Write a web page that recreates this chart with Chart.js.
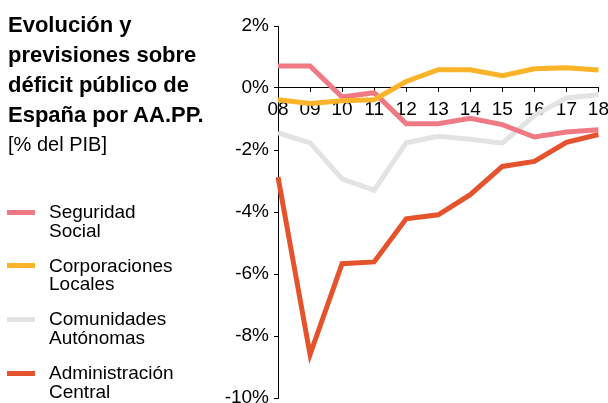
<!DOCTYPE html>
<html>
<head>
<meta charset="utf-8">
<script src="https://cdn.jsdelivr.net/npm/chart.js@4"></script>
<style>
  html, body { margin: 0; padding: 0; width: 608px; height: 403px; overflow: hidden; background: #fff; }
  body { position: relative; font-family: "Liberation Sans", Arial, sans-serif; color: #000; }
  #wrap { position: absolute; left: 0; top: 0; width: 615px; height: 420px; }
  .title { position: absolute; left: 8px; top: 10px; font-size: 22px; font-weight: bold; line-height: 30px; z-index: 2; }
  .sub { position: absolute; left: 8px; top: 133px; font-size: 20px; line-height: 22px; z-index: 2; }
  .item { position: absolute; left: 49px; font-size: 19px; line-height: 18.5px; z-index: 2; }
  .sw { position: absolute; left: -42px; top: 6.5px; width: 28px; height: 5px; }
</style>
</head>
<body>
<div class="title">Evolución y<br>previsiones sobre<br>déficit público de<br>España por AA.PP.</div>
<div class="sub">[% del PIB]</div>
<div id="legend"></div>
<div id="wrap"><canvas id="grafico"></canvas></div>
<script>
// données (% du PIB)
const annees = ['08', '09', '10', '11', '12', '13', '14', '15', '16', '17', '18']
const seguridadSocial = [0.71, 0.71, -0.29, -0.15, -1.15, -1.15, -0.98, -1.18, -1.58, -1.42, -1.35]
const corporacionesLocales = [-0.38, -0.5, -0.41, -0.38, 0.21, 0.59, 0.59, 0.4, 0.62, 0.65, 0.58]
const comunidadesAutonomas = [-1.45, -1.77, -2.93, -3.3, -1.77, -1.56, -1.65, -1.78, -0.89, -0.32, -0.22]
const administracionCentral = [-2.87, -8.6, -5.67, -5.61, -4.22, -4.09, -3.44, -2.53, -2.37, -1.75, -1.5]
const ticksY = [2, 0, -2, -4, -6, -8, -10]

const series = [
  { nom: ['Seguridad', 'Social'], data: seguridadSocial, couleur: '#f07a83' },
  { nom: ['Corporaciones', 'Locales'], data: corporacionesLocales, couleur: '#fbb429' },
  { nom: ['Comunidades', 'Autónomas'], data: comunidadesAutonomas, couleur: '#e3e3e3' },
  { nom: ['Administración', 'Central'], data: administracionCentral, couleur: '#e5532d' }
]

// légende à gauche
let legende = document.getElementById('legend')
series.forEach((s, i) => {
  let div = document.createElement('div')
  div.className = 'item'
  div.style.top = (203 + i * 53.7) + 'px'
  div.innerHTML = '<span class="sw" style="background:' + s.couleur + '"></span>' + s.nom.join('<br>')
  legende.appendChild(div)
})

// ordre de dessin : le premier dataset est dessiné au-dessus
const ordre = [1, 0, 3, 2]

Chart.defaults.font.family = '"Liberation Sans", Arial, sans-serif'
Chart.defaults.color = '#000'

new Chart(document.getElementById('grafico'), {
  type: 'line',
  data: {
    labels: annees,
    datasets: ordre.map(i => ({
      label: series[i].nom.join(' '),
      data: series[i].data,
      borderColor: series[i].couleur,
      backgroundColor: series[i].couleur,
      borderWidth: 5,
      pointRadius: 0,
      tension: 0,
      fill: false
    }))
  },
  options: {
    responsive: true,
    maintainAspectRatio: false,
    animation: false,
    layout: { padding: { top: 26, right: 11, bottom: 22, left: 0 } },
    plugins: { legend: { display: false }, tooltip: { enabled: false } },
    scales: {
      x: {
        position: { y: 0 },
        offset: false,
        grid: { drawOnChartArea: false, tickLength: 4, color: '#000' },
        border: { color: '#000', width: 1 },
        ticks: { font: { size: 19 }, color: '#000', padding: 6, maxRotation: 0, autoSkip: false }
      },
      y: {
        min: -10,
        max: 2,
        afterFit: (scale) => { scale.width = 278 },
        afterBuildTicks: (scale) => { scale.ticks = ticksY.map(v => ({ value: v })) },
        grid: { drawOnChartArea: false, tickLength: 4, color: '#000' },
        border: { color: '#000', width: 1 },
        ticks: { font: { size: 19 }, color: '#000', padding: 5, callback: (v) => v + '%' }
      }
    }
  }
})
</script>
</body>
</html>
